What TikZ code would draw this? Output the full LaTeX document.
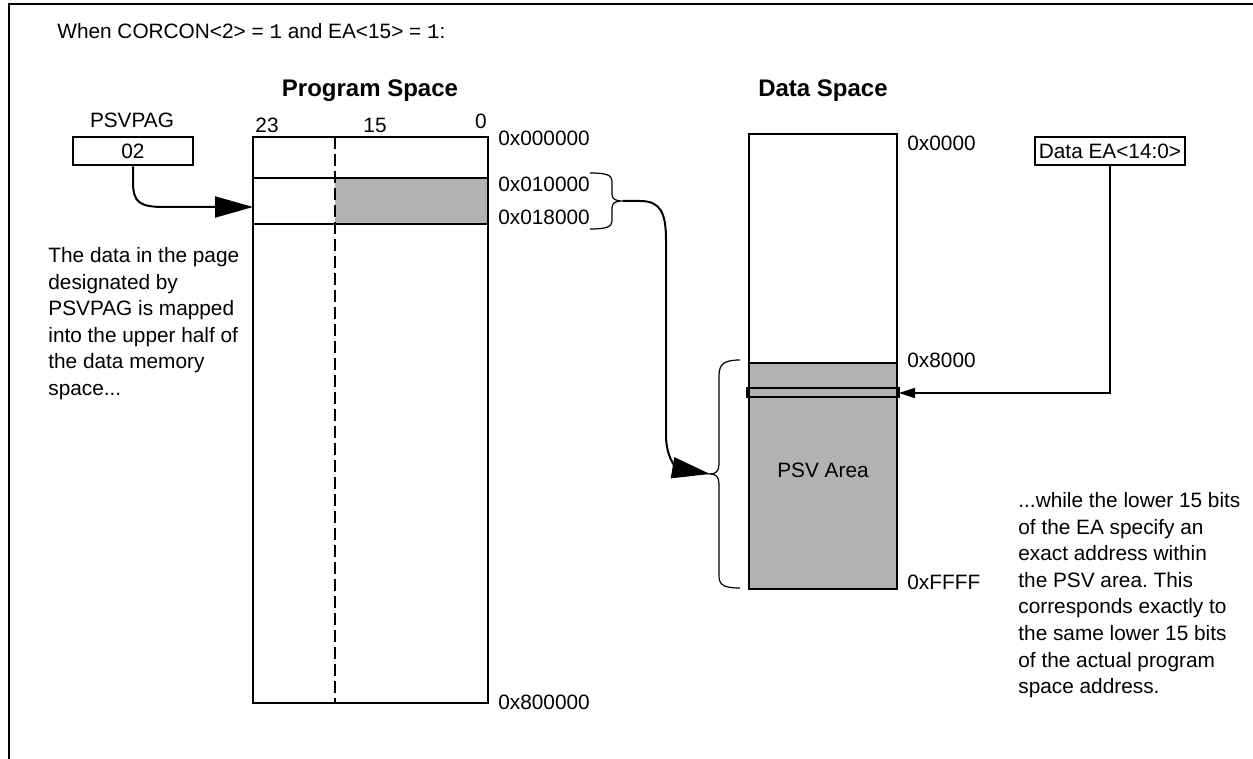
\documentclass[tikz,border=0pt]{standalone}
\usepackage{fontspec}
\setmainfont{Liberation Sans}
\setmonofont{Liberation Mono}
\usetikzlibrary{arrows.meta}
\frenchspacing

\begin{document}
\begin{tikzpicture}[x=0.5pt,y=-0.5pt,
		every node/.style={font=\fontsize{10.4}{13.3}\selectfont,inner sep=0pt},
		title/.style={font=\fontsize{12}{14}\selectfont\bfseries},
		memline/.style={line width=1pt},
		bitline/.style={line width=1pt,dash pattern=on 6pt off 2.5pt},
		regbox/.style={draw,line width=1pt,inner xsep=2pt,minimum height=14pt},
		brace/.style={line width=0.6pt},
		bigarrow/.style={line width=1pt,-{Triangle[length=19pt,width=10.5pt]}},
		smallarrow/.style={line width=1pt,-{Triangle[length=8pt,width=5pt]}},
		para/.style={align=left,anchor=north west}]
		\useasboundingbox (0,0) rectangle (1253,759);
		
		% frame
		\draw[line width=1pt] (9,759) -- (9,4) -- (1253,4);
		
		\node[anchor=west] (cond) at (57,31) {When CORCON<2> = \texttt{1} and EA<15> = \texttt{1}:};
		
		% program space
		\node[title] (ptitle) at (370,91) {Program Space};
		\node (b23) at (267,125) {23};
		\node (b15) at (375,125) {15};
		\node (b0) at (481,121) {0};
		
		\fill[gray!60] (335,178) rectangle (488,224);
		\draw[memline] (253,137) rectangle (488,703);
		\draw[memline] (253,178) -- (488,178);
		\draw[memline] (253,224) -- (488,224);
		\draw[bitline] (335,137) -- (335,703);
		\coordinate (prow) at (253,207);
		
		\node[anchor=west] (a0) at (498,138) {0x000000};
		\node[anchor=west] (a1) at (498,184) {0x010000};
		\node[anchor=west] (a2) at (498,217) {0x018000};
		\node[anchor=west] (a3) at (498,702) {0x800000};
		
		\coordinate (pbr) at (623,201);
		\draw[brace] (590,173) .. controls (606,173) and (612,175) .. (612,181) -- (612,194)
			.. controls (612,199) and (615,201) .. (pbr)
			.. controls (615,201) and (612,203) .. (612,208) -- (612,221)
			.. controls (612,227) and (606,229) .. (590,229);
		
		% psvpag register
		\node (plabel) at (132,120) {PSVPAG};
		\node[regbox,minimum width=60pt] (psvpag) at (133,151.5) {02};
		\draw[bigarrow] (psvpag.south) -- (133,182) .. controls (133,203) and (140,207) .. (165,207) -- (prow);
		
		\node[para] (ltext) at (48,247) {The data in the page\\designated by\\PSVPAG is mapped\\into the upper half of\\the data memory\\space...};
		
		% data space
		\node[title] (dtitle) at (823,91) {Data Space};
		\fill[gray!60] (749,363) rectangle (897,589);
		\draw[memline] (749,134) rectangle (897,589);
		\draw[memline] (749,363) -- (897,363);
		\draw[line width=1.4pt] (747,388) rectangle (899,397);
		\coordinate (dsel) at (899,393);
		\node (psv) at (823,470) {PSV Area};
		
		\node[anchor=west] (d0) at (907,143) {0x0000};
		\node[anchor=west] (d1) at (907,360) {0x8000};
		\node[anchor=west] (d2) at (907,582) {0xFFFF};
		
		\coordinate (dbr) at (710,474);
		\draw[brace] (740,360) .. controls (724,360) and (719,364) .. (719,376) -- (719,464)
			.. controls (719,471) and (716,474) .. (dbr)
			.. controls (716,474) and (719,477) .. (719,484) -- (719,576)
			.. controls (719,585) and (724,588) .. (740,588);
		
		\draw[bigarrow] (pbr) -- (640,201) .. controls (660,201) and (666,212) .. (666,240) -- (666,435)
			.. controls (666,462) and (680,469) .. (dbr);
		
		% data EA
		\node[regbox] (ea) at (1110,151) {Data EA<14:0>};
		\draw[smallarrow] (ea.south) |- (dsel);
		
		\node[para] (rtext) at (1018,492) {...while the lower 15 bits\\of the EA specify an\\exact address within\\the PSV area. This\\corresponds exactly to\\the same lower 15 bits\\of the actual program\\space address.};
	\end{tikzpicture}
\end{document}
